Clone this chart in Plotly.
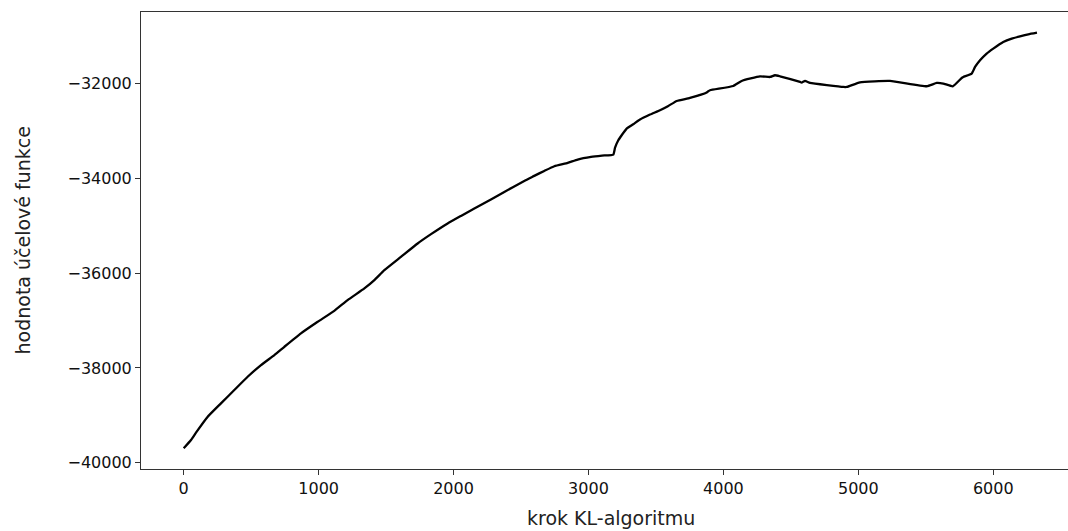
import plotly.graph_objects as go

# KL-algorithm step
steps = [0, 54, 91, 178, 276, 375, 474, 573, 672, 746, 869, 993, 1116, 1215, 1339,
         1413, 1487, 1610, 1734, 1833, 1956, 2055, 2154, 2277, 2376, 2524, 2598,
         2672, 2747, 2846, 2920, 3019, 3100, 3184, 3197, 3221, 3246, 3283, 3332,
         3382, 3456, 3530, 3592, 3654, 3752, 3876, 3888, 3901, 4073, 4135, 4271,
         4346, 4382, 4419, 4568, 4580, 4605, 4642, 4889, 4914, 5012, 5235, 5507,
         5581, 5630, 5700, 5766, 5778, 5840, 5865, 5902, 5951, 6000, 6074, 6137,
         6198, 6260, 6324]
# objective function value
values = [-39696, -39521, -39367, -39030, -38748, -38467, -38187, -37940, -37729,
          -37554, -37271, -37027, -36795, -36569, -36323, -36148, -35937, -35656,
          -35374, -35178, -34952, -34792, -34636, -34446, -34286, -34054, -33948,
          -33843, -33744, -33674, -33603, -33548, -33520, -33498, -33350, -33196,
          -33090, -32949, -32858, -32759, -32654, -32562, -32472, -32367, -32304,
          -32190, -32162, -32141, -32051, -31945, -31850, -31861, -31825, -31846,
          -31966, -31979, -31945, -31987, -32072, -32072, -31973, -31945, -32057,
          -31987, -32000, -32057, -31882, -31861, -31789, -31650, -31509, -31367,
          -31262, -31123, -31051, -31003, -30960, -30925]

x_ticks = [0, 1000, 2000, 3000, 4000, 5000, 6000]
x_tick_labels = ["0", "1000", "2000", "3000", "4000", "5000", "6000"]
y_ticks = [-40000, -38000, -36000, -34000, -32000]
y_tick_labels = ["\u221240000", "\u221238000", "\u221236000", "\u221234000", "\u221232000"]

fig = go.Figure()
fig.add_trace(go.Scatter(x=steps, y=values, mode="lines",
                         line=dict(color="black", width=2.3, shape="spline", smoothing=0.4),
                         showlegend=False))

font = "DejaVu Sans, sans-serif"
fig.update_layout(
    width=1068, height=531,
    margin=dict(l=141, r=0, t=12, b=62, pad=0),
    paper_bgcolor="white", plot_bgcolor="white",
    font=dict(family=font, size=16, color="black"),
    xaxis=dict(range=[-316.5, 6554], tickvals=x_ticks, ticktext=x_tick_labels,
               showgrid=False, zeroline=False, showline=True, mirror=True,
               linecolor="#333", linewidth=1, ticks="outside", ticklen=5,
               tickcolor="#333", tickwidth=1, tickfont=dict(size=16, color="#111")),
    yaxis=dict(range=[-40133, -30490], tickvals=y_ticks, ticktext=y_tick_labels,
               showgrid=False, zeroline=False, showline=True, mirror=False,
               linecolor="#333", linewidth=1, ticks="outside", ticklen=5,
               tickcolor="#333", tickwidth=1, tickfont=dict(size=16, color="#111")),
    annotations=[
        dict(text="krok KL-algoritmu", xref="paper", yref="paper",
             x=(611 - 141) / 927, y=(469 - 518) / 457.3, xanchor="center", yanchor="middle",
             showarrow=False, font=dict(size=19, family=font, color="#222")),
        dict(text="hodnota účelové funkce", xref="paper", yref="paper",
             x=(22 - 141) / 927, y=0.5, xanchor="center", yanchor="middle",
             textangle=-90, showarrow=False, font=dict(size=19, family=font, color="#222")),
    ],
)
fig.write_html("out.html")
